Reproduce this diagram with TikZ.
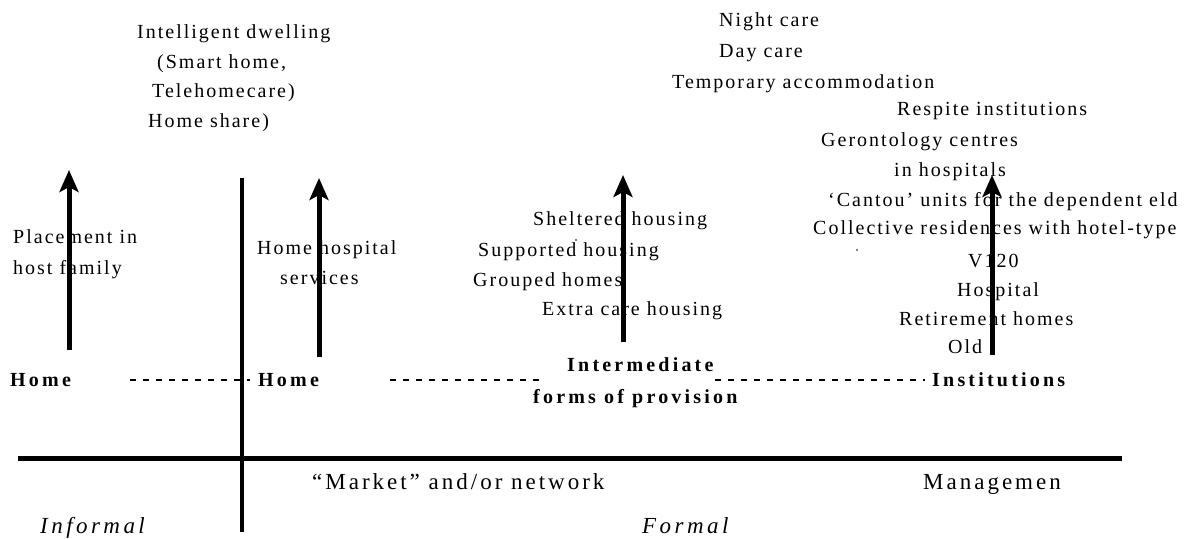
\documentclass[tikz,border=0pt]{standalone}
\usepackage{fontspec}
\setmainfont{Liberation Serif}[LetterSpace=10, BoldFeatures={LetterSpace=16}]
\usetikzlibrary{arrows.meta}
\tikzset{
  lbl/.style={anchor=mid west, inner sep=0pt, yshift=-4pt, font=\fontsize{20}{23}\selectfont},
  blbl/.style={lbl, font=\fontsize{20}{23}\selectfont\bfseries},
  biglbl/.style={lbl, font=\fontsize{23}{26}\selectfont\addfontfeatures{LetterSpace=13}},
  ilbl/.style={lbl, font=\fontsize{23}{26}\selectfont\itshape\addfontfeatures{LetterSpace=15}},
  uparrow/.style={line width=5pt, -{Stealth[length=22pt,width=19pt,inset=5pt]}},
  axis/.style={line width=5pt},
  dotted line/.style={line width=1.6pt, dash pattern=on 6pt off 7pt},
  speck/.style={fill=black}
}
\begin{document}
\begin{tikzpicture}[x=1pt,y=-1pt]
\useasboundingbox (0,0) rectangle (1193,538);
% top-left
\node[lbl] (t1) at (137,32) {Intelligent dwelling};
\node[lbl] (t2) at (157,62) {(Smart home,};
\node[lbl] (t3) at (152,91) {Telehomecare)};
\node[lbl] (t4) at (148,121) {Home share)};
% top-centre
\node[lbl] (n1) at (719,20) {Night care};
\node[lbl] (n2) at (719,51) {Day care};
\node[lbl] (n3) at (672,82) {Temporary accommodation};
% right column
\node[lbl] (r1) at (897,109) {Respite institutions};
\node[lbl] (r2) at (821,140) {Gerontology centres};
\node[lbl] (r3) at (894,170) {in hospitals};
\node[lbl] (r4) at (828,200) {‘Cantou’ units for the dependent eld};
\node[lbl] (r5) at (813,228) {Collective residences with hotel-type};
\fill[speck] (857,250) circle (0.9pt);
\node[lbl] (r7) at (968,261) {V120};
\node[lbl] (r8) at (957,290) {Hospital};
\node[lbl] (r9) at (899,319) {Retirement homes};
\node[lbl] (r10) at (948,347) {Old};
% intermediate column
\node[lbl] (m1) at (533,219) {Sheltered housing};
\node[lbl] (m2) at (478,250) {Supported housing};
\fill[speck] (576,240) circle (0.9pt);
\node[lbl] (m3) at (473,280) {Grouped homes};
\node[lbl] (m4) at (542,309) {Extra care housing};
% left
\node[lbl] (p1) at (13,237) {Placement in};
\node[lbl] (p2) at (13,268) {host family};
\node[lbl] (h1) at (257,248) {Home hospital};
\node[lbl] (h2) at (280,278) {services};
% category row
\node[blbl] (home1) at (10,380) {Home};
\node[blbl] (home2) at (258,380) {Home};
\node[blbl] (int1) at (567,365) {Intermediate};
\node[blbl] (int2) at (533,397) {forms of provision};
\node[blbl] (inst) at (932,380) {Institutions};
% bottom
\node[biglbl] (mk) at (312,483) {“Market” and/or network};
\node[biglbl] (mg) at (923,483) {Managemen};
\node[ilbl] (inf) at (40,527) {Informal};
\node[ilbl] (frm) at (642,527) {Formal};
% dashed links
\coordinate (d1a) at (130,380); \coordinate (d1b) at (250,380);
\coordinate (d2a) at (390,380); \coordinate (d2b) at (545,380);
\coordinate (d3a) at (715,380); \coordinate (d3b) at (925,380);
\draw[dotted line] (d1a) -- (d1b);
\draw[dotted line] (d2a) -- (d2b);
\draw[dotted line] (d3a) -- (d3b);
% axes
\coordinate (hl) at (18,458); \coordinate (hr) at (1122,458);
\coordinate (vt) at (242,178); \coordinate (vb) at (242,532);
\draw[axis] (hl) -- (hr);
\draw[line width=4pt] (vt) -- (vb);
% arrows
\coordinate (a1s) at (69,350); \coordinate (a1e) at (69,170);
\coordinate (a2s) at (319,357); \coordinate (a2e) at (319,178);
\coordinate (a3s) at (623,342); \coordinate (a3e) at (623,175);
\coordinate (a4s) at (992,355); \coordinate (a4e) at (992,175);
\draw[uparrow] (a1s) -- (a1e);
\draw[uparrow] (a2s) -- (a2e);
\draw[uparrow] (a3s) -- (a3e);
\draw[uparrow] (a4s) -- (a4e);
\end{tikzpicture}
\end{document}
